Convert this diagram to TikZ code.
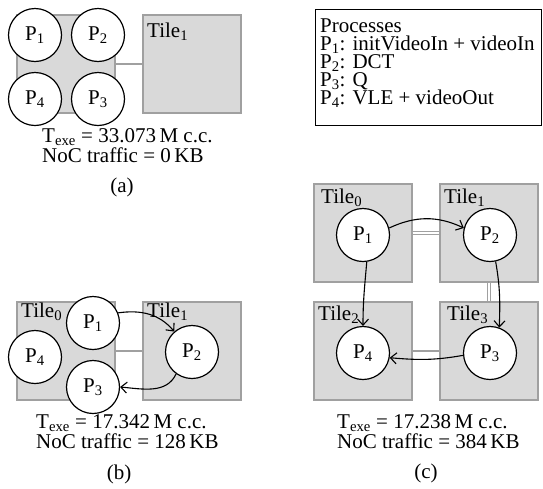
\documentclass[tikz,border=0pt]{standalone}
\usepackage{fontspec}
\setmainfont{Liberation Serif}
\usetikzlibrary{arrows.meta}
\definecolor{tilefill}{HTML}{D9D9D9}
\definecolor{tileline}{HTML}{A0A0A0}
\begin{document}
\begin{tikzpicture}[x=1pt,y=1pt,
  every node/.style={font=\fontsize{21}{18}\selectfont},
  tile/.style={draw=tileline, fill=tilefill, line width=1.4pt, minimum width=98pt, minimum height=98pt, inner sep=0pt},
  proc/.style={circle, draw=black, fill=white, line width=1.2pt, minimum size=53pt, inner sep=0pt},
  lbl/.style={anchor=base west, inner sep=0pt},
  multi/.style={anchor=base west, inner sep=0pt, align=left},
  link/.style={draw=tileline, line width=1.3pt},
  dlink/.style={draw=tileline, line width=1.1pt, double=white, double distance=1.2pt},
  flow/.style={draw=black, line width=1.1pt, -{Straight Barb[length=6pt,width=11pt]}},
  caption/.style={anchor=base, inner sep=0pt}]
\useasboundingbox (0,0) rectangle (543,-488);

% ---------- (a)
\node[tile] (a0) at (66,-64) {};
\node[tile] (a1) at (192,-64) {};
\draw[link] (a0) -- (a1);
\node[lbl] (a1l) at (147,-37) {Tile\textsubscript{1}};
\node[proc] (ap1) at (35,-35) {P\textsubscript{1}};
\node[proc] (ap2) at (98,-35) {P\textsubscript{2}};
\node[proc] (ap4) at (35,-99) {P\textsubscript{4}};
\node[proc] (ap3) at (98,-99) {P\textsubscript{3}};
% base anchor of a multi-line node = baseline of its last line
\node[multi, font=\fontsize{21}{20}\selectfont] (at) at (42,-162) {T\textsubscript{exe} = 33.073\,M c.c.\\NoC traffic = 0\,KB};
\node[caption] (acap) at (122,-192) {(a)};

% ---------- legend
\node[draw=black, line width=1.2pt, anchor=north west, minimum width=226pt, minimum height=116pt, inner sep=0pt] (legend) at (315,-9) {};
\node[multi] (lg) at (320,-104) {Processes\\P\textsubscript{1}: initVideoIn + videoIn\\P\textsubscript{2}: DCT\\P\textsubscript{3}: Q\\P\textsubscript{4}: VLE + videoOut};

% ---------- (b)
\node[tile] (b0) at (66,-351) {};
\node[tile] (b1) at (192,-351) {};
\draw[link] (b0) -- (b1);
\node[lbl] (b0l) at (21,-317) {Tile\textsubscript{0}};
\node[lbl] (b1l) at (147,-317) {Tile\textsubscript{1}};
\node[proc] (bp1) at (93,-323) {P\textsubscript{1}};
\node[proc] (bp4) at (35,-357) {P\textsubscript{4}};
\node[proc] (bp3) at (93,-387) {P\textsubscript{3}};
\node[proc] (bp2) at (192,-352) {P\textsubscript{2}};
\draw[flow] (bp1.22) to[out=8, in=130] (bp2.131);
\draw[flow] (bp2.234) to[out=245, in=-5] (bp3.0);
\node[multi, font=\fontsize{21}{20}\selectfont] (bt) at (36,-448) {T\textsubscript{exe} = 17.342\,M c.c.\\NoC traffic = 128\,KB};
\node[caption] (bcap) at (119,-479) {(b)};

% ---------- (c)
\node[tile] (c0) at (363,-233) {};
\node[tile] (c1) at (489,-233) {};
\node[tile] (c2) at (363,-351) {};
\node[tile] (c3) at (489,-351) {};
\draw[dlink] (c0) -- (c1);
\draw[dlink] (c1) -- (c3);
\draw[link] (c2) -- (c3);
\node[lbl] (c0l) at (321,-203) {Tile\textsubscript{0}};
\node[lbl] (c1l) at (444,-203) {Tile\textsubscript{1}};
\node[lbl] (c2l) at (318,-320) {Tile\textsubscript{2}};
\node[lbl] (c3l) at (447,-320) {Tile\textsubscript{3}};
\node[proc] (cp1) at (363,-235) {P\textsubscript{1}};
\node[proc] (cp2) at (490,-235) {P\textsubscript{2}};
\node[proc] (cp4) at (363,-353) {P\textsubscript{4}};
\node[proc] (cp3) at (490,-353) {P\textsubscript{3}};
\draw[flow] (cp1.15) to[out=25, in=155] (cp2.165);
\draw[flow] (cp2.-78) to[out=-80, in=88] (cp3.70);
\draw[flow] (cp1.-82) to[out=-95, in=90] (cp4.90);
\draw[flow] (cp3.185) to[out=190, in=-5] (cp4.-10);
\node[multi, font=\fontsize{21}{20}\selectfont] (ct) at (337,-448) {T\textsubscript{exe} = 17.238\,M c.c.\\NoC traffic = 384\,KB};
\node[caption] (ccap) at (426,-478) {(c)};
\end{tikzpicture}
\end{document}
